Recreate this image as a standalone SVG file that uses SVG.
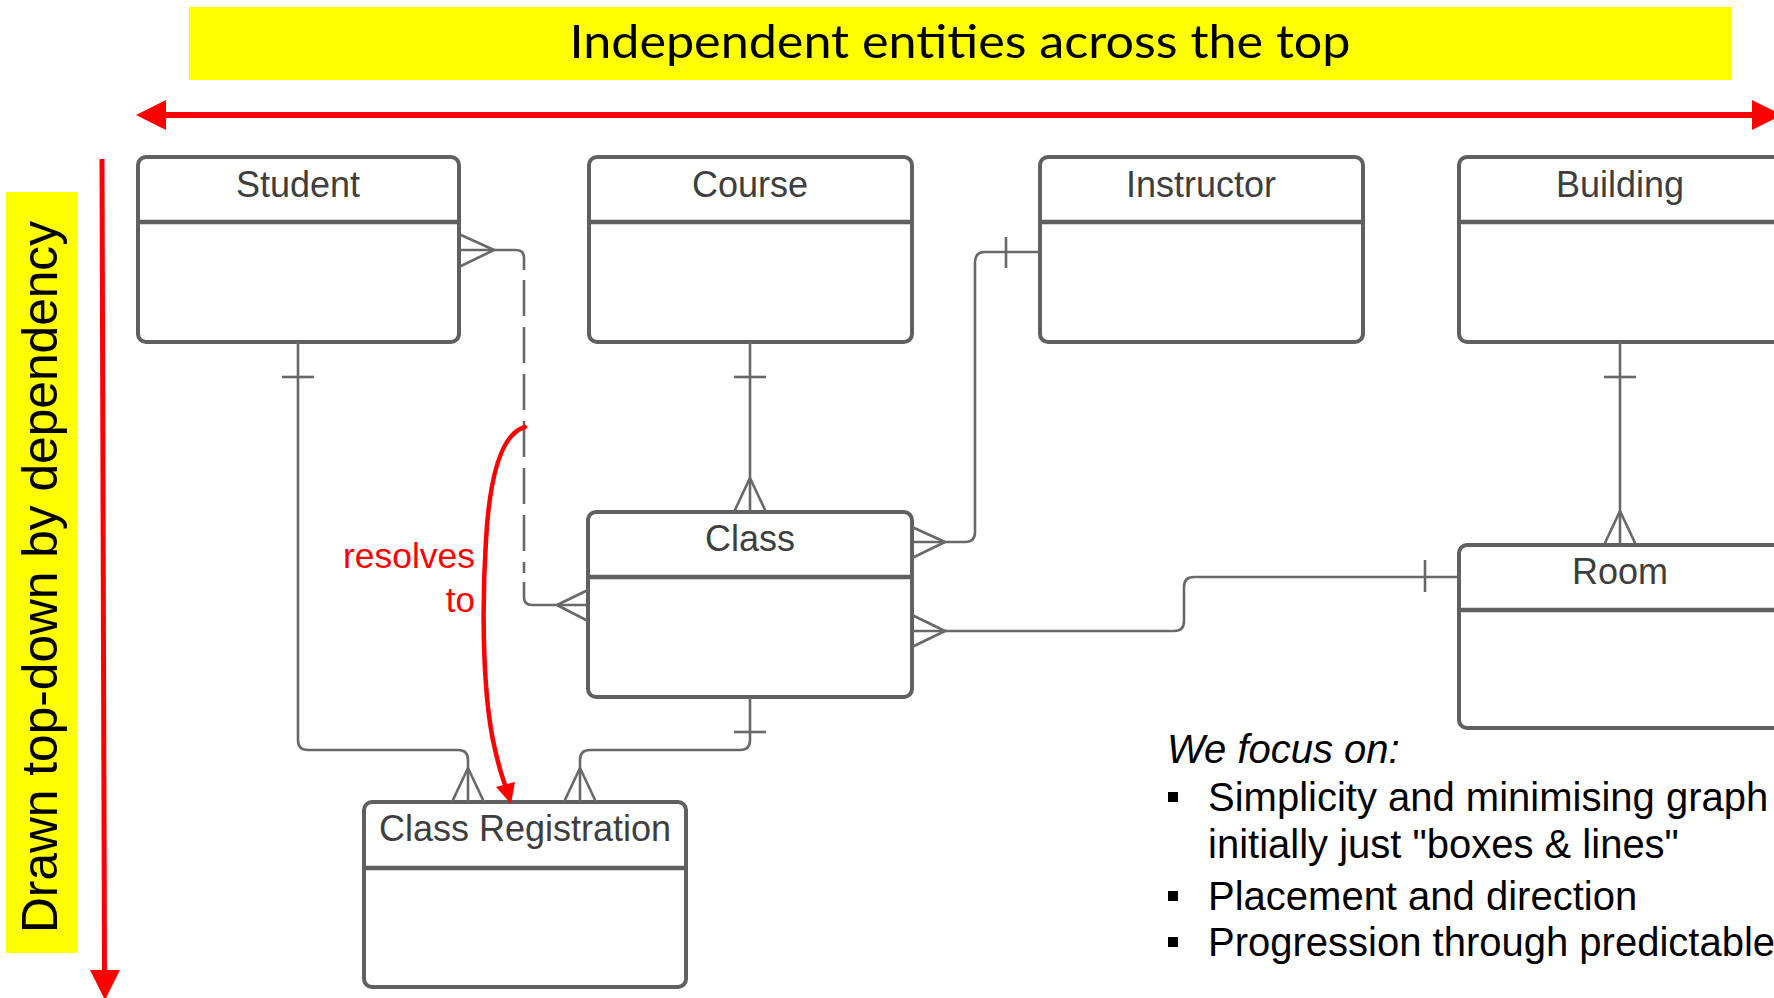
<svg xmlns="http://www.w3.org/2000/svg" width="1774" height="998" viewBox="0 0 1774 998">
<style>
.box{fill:#ffffff;stroke:#606060;stroke-width:4}
.hdr{stroke:#606060;stroke-width:4.5}
.lbl{font-family:"Liberation Sans",Arial,sans-serif;font-size:36px;fill:#3e3e3e;text-anchor:middle}
.con{fill:none;stroke:#686868;stroke-width:2.6;stroke-linejoin:round}
.dash{stroke-dasharray:36 11}
.red{fill:none;stroke:#ff0000}
.body{font-family:"Liberation Sans",Arial,sans-serif;font-size:40px;fill:#000000}
</style>
<rect x="0" y="0" width="1774" height="998" fill="#ffffff"/>

<g id="title">
<rect x="189" y="7" width="1542" height="73" fill="#ffff00"/>
<text x="960" y="58" font-family="Lato,'Open Sans',sans-serif" font-size="46" text-anchor="middle" textLength="781" lengthAdjust="spacingAndGlyphs" fill="#000">Independent entities across the top</text>
</g>

<g id="side-label">
<rect x="6" y="192" width="71" height="761" fill="#ffff00"/>
<text transform="translate(57,577) rotate(-90)" x="0" y="0" font-family="'Liberation Sans',Arial,sans-serif" font-size="50" text-anchor="middle" textLength="712" lengthAdjust="spacingAndGlyphs" fill="#000">Drawn top-down by dependency</text>
</g>

<g id="red-arrows">
<line x1="162" y1="115" x2="1756" y2="115" class="red" stroke-width="6"/>
<polygon points="136,115 166,100 166,130" fill="#ff0000"/>
<polygon points="1782,115 1752,100 1752,130" fill="#ff0000"/>
<line x1="102" y1="159" x2="104.5" y2="972" class="red" stroke-width="5"/>
<polygon points="105,1000 90,970 120,970" fill="#ff0000"/>
</g>

<g id="student">
<rect class="box" x="138" y="157" width="321" height="185" rx="8"/>
<line class="hdr" x1="138" y1="222" x2="459" y2="222"/>
<text class="lbl" x="298" y="197">Student</text>
</g>
<g id="course">
<rect class="box" x="589" y="157" width="323" height="185" rx="8"/>
<line class="hdr" x1="589" y1="222" x2="912" y2="222"/>
<text class="lbl" x="750" y="197">Course</text>
</g>
<g id="instructor">
<rect class="box" x="1040" y="157" width="323" height="185" rx="8"/>
<line class="hdr" x1="1040" y1="222" x2="1363" y2="222"/>
<text class="lbl" x="1201" y="197">Instructor</text>
</g>
<g id="building">
<rect class="box" x="1459" y="157" width="323" height="185" rx="8"/>
<line class="hdr" x1="1459" y1="222" x2="1782" y2="222"/>
<text class="lbl" x="1620" y="197">Building</text>
</g>
<g id="class">
<rect class="box" x="588" y="512" width="324" height="185" rx="8"/>
<line class="hdr" x1="588" y1="577" x2="912" y2="577"/>
<text class="lbl" x="750" y="551">Class</text>
</g>
<g id="room">
<rect class="box" x="1459" y="545" width="323" height="183" rx="8"/>
<line class="hdr" x1="1459" y1="610" x2="1782" y2="610"/>
<text class="lbl" x="1620" y="584">Room</text>
</g>
<g id="class-registration">
<rect class="box" x="364" y="802" width="322" height="185" rx="8"/>
<line class="hdr" x1="364" y1="868" x2="686" y2="868"/>
<text class="lbl" x="525" y="841">Class Registration</text>
</g>

<g id="connectors">
<path class="con" d="M298,342 V740 Q298,750 308,750 H458 Q468,750 468,760 V802"/>
<path class="con" d="M282,377 H314"/>
<path class="con" d="M452,802 L468,768 L484,802"/>

<path class="con" d="M750,342 V512"/>
<path class="con" d="M734,377 H766"/>
<path class="con" d="M734,512 L750,478 L766,512"/>

<path class="con" d="M750,697 V740 Q750,750 740,750 H590 Q580,750 580,760 V802"/>
<path class="con" d="M734,732 H766"/>
<path class="con" d="M564,802 L580,768 L596,802"/>

<path class="con" d="M1040,252 H985 Q975,252 975,262 V532 Q975,542 965,542 H912"/>
<path class="con" d="M1006,237 V268"/>
<path class="con" d="M912,527 L945,542 L912,558"/>

<path class="con" d="M912,631 H1174 Q1184,631 1184,621 V587 Q1184,577 1194,577 H1459"/>
<path class="con" d="M1425,560 V592"/>
<path class="con" d="M912,615 L945,631 L912,647"/>

<path class="con" d="M1620,342 V545"/>
<path class="con" d="M1604,377 H1636"/>
<path class="con" d="M1604,545 L1620,511 L1636,545"/>

<path class="con" d="M459,250 H516 Q524,250 524,258 V270"/>
<path class="con dash" d="M524,280 V573"/>
<path class="con" d="M524,582 V597 Q524,605 532,605 H588"/>
<path class="con" d="M461,235 L494,250 L461,266"/>
<path class="con" d="M588,590 L557,605 L588,621"/>
</g>

<g id="resolves-to">
<path class="red" stroke-width="4.5" stroke-linecap="round" d="M525,427 C503,433 490,470 486,540 C481,620 484,700 494,745 C499,768 503,780 507,790"/>
<polygon points="511,804 496,787 515,782" fill="#ff0000"/>
<text x="475" y="568" font-family="'Liberation Sans',Arial,sans-serif" font-size="35" fill="#ff0000" text-anchor="end" textLength="132" lengthAdjust="spacingAndGlyphs">resolves</text>
<text x="475" y="612" font-family="'Liberation Sans',Arial,sans-serif" font-size="35" fill="#ff0000" text-anchor="end">to</text>
</g>

<g id="notes">
<text class="body" x="1167" y="763" font-style="italic">We focus on:</text>
<rect x="1168" y="792" width="10" height="10" fill="#000"/>
<text class="body" x="1208" y="811">Simplicity and minimising graph</text>
<text class="body" x="1208" y="858">initially just "boxes &amp; lines"</text>
<rect x="1168" y="891" width="10" height="10" fill="#000"/>
<text class="body" x="1208" y="910">Placement and direction</text>
<rect x="1168" y="937" width="10" height="10" fill="#000"/>
<text class="body" x="1208" y="956">Progression through predictable</text>
</g>
</svg>
